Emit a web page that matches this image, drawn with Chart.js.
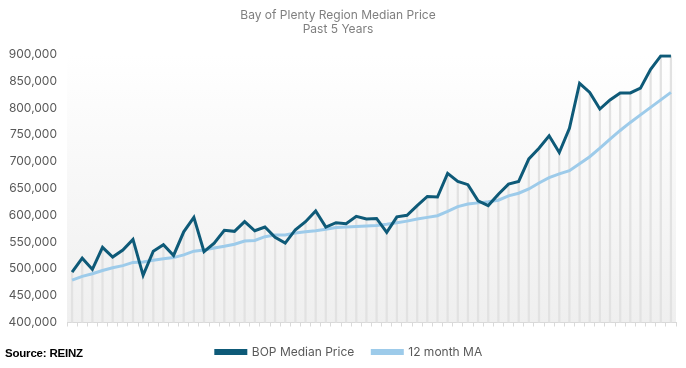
<!DOCTYPE html>
<html>
<head>
<meta charset="utf-8">
<script src="https://cdn.jsdelivr.net/npm/chart.js@4/dist/chart.umd.min.js"></script>
<style>
  html, body { margin: 0; padding: 0; background: #ffffff; }
  #wrap { position: relative; width: 686px; height: 368px; }
  #source { position: absolute; left: 5px; top: 347px; font: bold 11.5px "Liberation Sans", Arial, sans-serif; color: #000; letter-spacing: -0.2px; }
</style>
</head>
<body>
<div id="wrap">
  <canvas id="c" width="686" height="368"></canvas>
  <div id="source">Source: REINZ</div>
</div>
<script>
const months = ["M1","M2","M3","M4","M5","M6","M7","M8","M9","M10","M11","M12",
  "M13","M14","M15","M16","M17","M18","M19","M20","M21","M22","M23","M24",
  "M25","M26","M27","M28","M29","M30","M31","M32","M33","M34","M35","M36",
  "M37","M38","M39","M40","M41","M42","M43","M44","M45","M46","M47","M48",
  "M49","M50","M51","M52","M53","M54","M55","M56","M57","M58","M59","M60"];

const bopMedian = [494000, 520000, 499000, 540000, 522000, 535000, 555000, 488000, 533000, 545000,
  525000, 569000, 596000, 532000, 548000, 572000, 570000, 588000, 571000, 578000,
  559000, 548000, 573000, 588000, 608000, 578000, 586000, 584000, 598000, 593000,
  594000, 568000, 597000, 600000, 618000, 635000, 634000, 678000, 663000, 657000,
  627000, 618000, 639000, 658000, 663000, 705000, 725000, 748000, 717000, 762000,
  846000, 829000, 798000, 815000, 828000, 828000, 837000, 872000, 897000, 897000];

const movingAvg = [479000, 486000, 491000, 497000, 502000, 506000, 512000, 513000, 516000, 519000,
  521000, 526000, 533000, 535000, 539000, 542000, 546000, 552000, 553000, 560000,
  563000, 563000, 567000, 569000, 571000, 574000, 577000, 578000, 579000, 580000,
  581000, 583000, 586000, 589000, 593000, 596000, 599000, 607000, 616000, 621000,
  623000, 625000, 628000, 636000, 641000, 649000, 660000, 670000, 677000, 683000,
  696000, 709000, 725000, 742000, 758000, 773000, 787000, 801000, 815000, 829000];

const yTicks = [400000, 450000, 500000, 550000, 600000, 650000, 700000, 750000, 800000, 850000, 900000];

const bgPlugin = {
  id: 'bgGradient',
  afterLayout(chart) {
    const lg = chart.legend;
    if (lg) { lg.left += 11; lg.right += 11; }
  },
  beforeDraw(chart) {
    const {ctx, chartArea} = chart;
    if (!chartArea) return;
    const g = ctx.createLinearGradient(0, chartArea.top, 0, chartArea.bottom);
    g.addColorStop(0, '#ffffff');
    g.addColorStop(1, '#efefef');
    ctx.save();
    ctx.fillStyle = g;
    ctx.fillRect(chartArea.left, chartArea.top, chartArea.right - chartArea.left, chartArea.bottom - chartArea.top);
    ctx.restore();
  }
};

new Chart(document.getElementById('c'), {
  type: 'line',
  data: {
    labels: months,
    datasets: [
      {
        label: 'BOP Median Price',
        data: bopMedian,
        borderColor: '#0e5a78',
        backgroundColor: '#0e5a78',
        borderWidth: 3,
        pointRadius: 0,
        tension: 0,
        fill: false,
        order: 1
      },
      {
        label: '12 month MA',
        data: movingAvg,
        borderColor: '#9dcbea',
        backgroundColor: '#9dcbea',
        borderWidth: 3,
        pointRadius: 0,
        tension: 0,
        fill: false,
        order: 2
      },
      {
        type: 'bar',
        label: 'drop',
        data: bopMedian,
        backgroundColor: '#e2e2e2',
        borderWidth: 0,
        barThickness: 1.6,
        order: 3
      }
    ]
  },
  options: {
    responsive: false,
    animation: false,
    devicePixelRatio: 1,
    layout: { padding: { left: 0, right: 10, top: 0, bottom: 0 } },
    plugins: {
      title: {
        display: true,
        text: ['Bay of Plenty Region Median Price', 'Past 5 Years'],
        color: '#7f7f7f',
        font: { family: 'Inter', size: 12, weight: 'normal' },
        padding: { top: 8, bottom: 17.5 },
        lineHeight: 1.2
      },
      legend: {
        position: 'bottom',
        labels: {
          filter: (item) => item.text !== 'drop',
          boxWidth: 30,
          boxHeight: 3,
          color: '#595959',
          font: { family: 'Inter', size: 12 },
          padding: 18
        }
      },
      tooltip: { enabled: false }
    },
    scales: {
      x: {
        offset: true,
        grid: { display: true, drawOnChartArea: false, offset: true, tickLength: 4, color: '#d9d9d9' },
        border: { display: true, color: '#d9d9d9', width: 1 },
        ticks: { display: false },
        afterFit: (s) => { s.height = 5.5; }
      },
      y: {
        min: 400000,
        max: 900000,
        afterBuildTicks: (s) => { s.ticks = yTicks.map(v => ({ value: v })); },
        grid: { display: false, drawTicks: false },
        border: { display: false },
        ticks: {
          padding: 10,
          color: '#595959',
          font: { family: 'Inter', size: 12 },
          callback: (v) => Number(v).toLocaleString('en-US')
        },
        afterFit: (s) => { s.width = 67; }
      }
    }
  },
  plugins: [bgPlugin]
});
</script>
</body>
</html>
